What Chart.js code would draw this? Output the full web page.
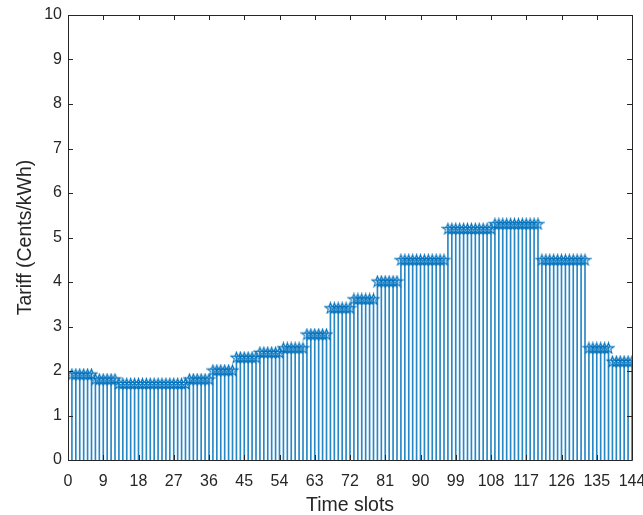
<!DOCTYPE html>
<html>
<head>
<meta charset="utf-8">
<script src="https://cdn.jsdelivr.net/npm/chart.js@4.4.1/dist/chart.umd.min.js"></script>
<style>
  html, body { margin: 0; padding: 0; background: #ffffff; }
  #wrap { width: 643px; height: 515px; position: relative; }
</style>
</head>
<body>
<div id="wrap"><canvas id="c" width="643" height="515"></canvas></div>
<script>
// Hourly tariff levels (cents/kWh); each hour is split into six 10-minute slots.
const hourlyTariff = [1.93, 1.82, 1.72, 1.72, 1.72, 1.82, 2.02, 2.31, 2.42, 2.52, 2.83, 3.42,
                      3.62, 4.02, 4.50, 4.50, 5.20, 5.20, 5.31, 5.31, 4.50, 4.50, 2.52, 2.22];
const slotsPerHour = 6;
const xTicks = [0, 9, 18, 27, 36, 45, 54, 63, 72, 81, 90, 99, 108, 117, 126, 135, 144];
const yTicks = [0, 1, 2, 3, 4, 5, 6, 7, 8, 9, 10];

// Time slot numbers 1..144 and the tariff of each slot
const slots = [];
const tariff = [];
hourlyTariff.forEach((v, h) => {
  for (let k = 1; k <= slotsPerHour; k++) {
    slots.push(h * slotsPerHour + k);
    tariff.push(v);
  }
});
const points = slots.map((s, i) => ({ x: s, y: tariff[i] }));

const BLUE = '#0072BD';

// Five-pointed star outline used as the stem marker
function pentagram(size) {
  const cv = document.createElement('canvas');
  cv.width = size; cv.height = size;
  const g = cv.getContext('2d');
  const cx = size / 2, cy = size / 2 + 0.6;
  const R = size / 2 - 0.8, r = R * 0.40;
  g.beginPath();
  for (let i = 0; i < 10; i++) {
    const rad = (i % 2 === 0) ? R : r;
    const a = -Math.PI / 2 + i * Math.PI / 5;
    const px = cx + rad * Math.cos(a), py = cy + rad * Math.sin(a);
    if (i === 0) g.moveTo(px, py); else g.lineTo(px, py);
  }
  g.closePath();
  g.strokeStyle = BLUE;
  g.lineWidth = 1.1;
  g.stroke();
  return cv;
}
const starMarker = pentagram(13);

// Box frame with inward tick marks on all four sides
const boxFrame = {
  id: 'boxFrame',
  afterDatasetsDraw(chart) {
    const { ctx, chartArea: a, scales } = chart;
    ctx.save();
    ctx.strokeStyle = '#262626';
    ctx.lineWidth = 1;
    ctx.beginPath();
    ctx.rect(Math.round(a.left) + 0.5, Math.round(a.top) + 0.5,
             Math.round(a.right - a.left), Math.round(a.bottom - a.top));
    ctx.stroke();
    const len = 5;
    ctx.beginPath();
    xTicks.forEach(t => {
      const px = Math.round(scales.x.getPixelForValue(t)) + 0.5;
      ctx.moveTo(px, a.bottom); ctx.lineTo(px, a.bottom - len);
      ctx.moveTo(px, a.top); ctx.lineTo(px, a.top + len);
    });
    yTicks.forEach(t => {
      const py = Math.round(scales.y.getPixelForValue(t)) + 0.5;
      ctx.moveTo(a.left, py); ctx.lineTo(a.left + len, py);
      ctx.moveTo(a.right, py); ctx.lineTo(a.right - len, py);
    });
    ctx.stroke();
    ctx.restore();
  }
};

const tickFont = { family: 'Liberation Sans, Arial, sans-serif', size: 16 };
const titleFont = { family: 'Liberation Sans, Arial, sans-serif', size: 19.5, lineHeight: 1.0 };

new Chart(document.getElementById('c'), {
  data: {
    datasets: [
      {
        type: 'bar',
        label: 'stems',
        data: points,
        backgroundColor: 'rgba(0,114,189,0.85)',
        borderWidth: 0,
        barThickness: 1,
        order: 2
      },
      {
        type: 'line',
        label: 'Tariff',
        data: points,
        showLine: false,
        pointStyle: starMarker,
        pointRadius: 6,
        order: 1
      }
    ]
  },
  options: {
    responsive: false,
    animation: false,
    devicePixelRatio: 1,
    layout: { padding: { left: 0, right: 11, top: 15, bottom: 0 } },
    plugins: { legend: { display: false }, tooltip: { enabled: false } },
    scales: {
      x: {
        type: 'linear',
        min: 0, max: 144,
        offset: false,
        afterBuildTicks(s) { s.ticks = xTicks.map(v => ({ value: v })); },
        afterFit(s) { s.height = 55; s.paddingLeft = 0; s.paddingRight = 0; },
        grid: { display: false, drawTicks: false },
        border: { display: false },
        ticks: { color: '#262626', font: tickFont, padding: 12, maxRotation: 0, autoSkip: false },
        title: { display: true, text: 'Time slots', color: '#262626', font: titleFont, padding: { top: 2, bottom: 0 } }
      },
      y: {
        type: 'linear',
        min: 0, max: 10,
        afterBuildTicks(s) { s.ticks = yTicks.map(v => ({ value: v })); },
        afterFit(s) { s.width = 68; s.paddingTop = 0; s.paddingBottom = 0; },
        grid: { display: false, drawTicks: false },
        border: { display: false },
        ticks: { color: '#262626', font: tickFont, padding: 6 },
        title: { display: true, text: 'Tariff (Cents/kWh)', color: '#262626', font: titleFont, padding: { top: 16, bottom: 0 } }
      }
    }
  },
  plugins: [boxFrame]
});
</script>
</body>
</html>
